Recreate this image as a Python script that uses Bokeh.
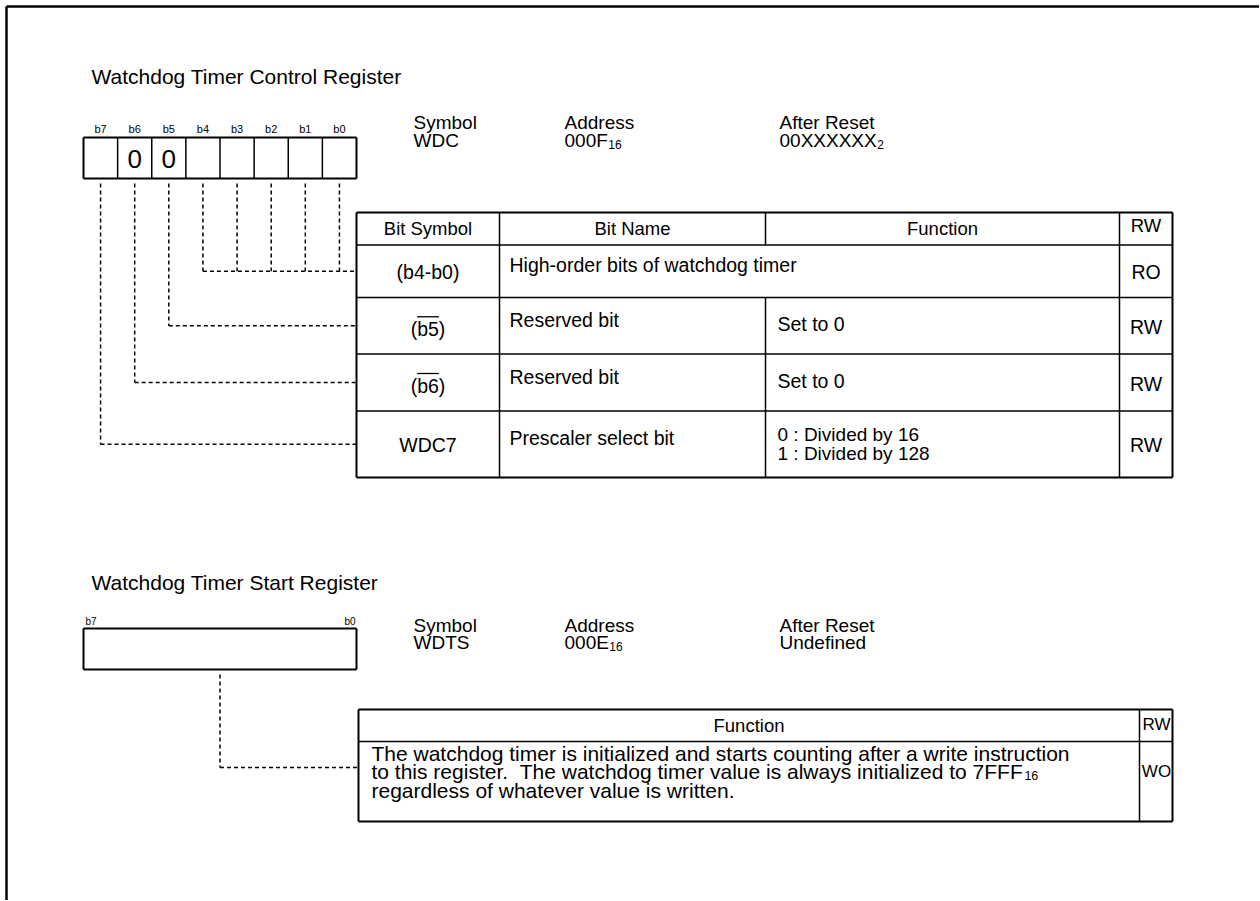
from bokeh.plotting import figure
from bokeh.models import Range1d
from bokeh.core.properties import value
from bokeh.embed import file_html
from bokeh.resources import INLINE

# ---------------- data ----------------
wdc_title = "Watchdog Timer Control Register"
wdts_title = "Watchdog Timer Start Register"
bit_labels = ["b7", "b6", "b5", "b4", "b3", "b2", "b1", "b0"]
wdc_fixed = ["", "0", "0", "", "", "", "", ""]
info_headers = ["Symbol", "Address", "After Reset"]
wdc_info = ["WDC", "000F", "00XXXXXX"]
wdc_info_sub = ["", "16", "2"]
wdts_info = ["WDTS", "000E", "Undefined"]
wdts_info_sub = ["", "16", ""]
wdc_headers = ["Bit Symbol", "Bit Name", "Function", "RW"]
wdc_symbols = ["(b4-b0)", "(b5)", "(b6)", "WDC7"]
wdc_overline = [False, True, True, False]
wdc_names = ["High-order bits of watchdog timer", "Reserved bit", "Reserved bit", "Prescaler select bit"]
wdc_functions = [[], ["Set to 0"], ["Set to 0"], ["0 : Divided by 16", "1 : Divided by 128"]]
wdc_rw = ["RO", "RW", "RW", "RW"]
wdc_bit_hi = [4, 5, 6, 7]
wdc_bit_lo = [0, 5, 6, 7]
wdts_headers = ["Function", "RW"]
wdts_function = [
    "The watchdog timer is initialized and starts counting after a write instruction",
    "to this register. \u00a0The watchdog timer value is always initialized to 7FFF",
    "regardless of whatever value is written.",
]
wdts_function_sub = ["", "16", ""]
wdts_rw = "WO"

# ---------------- layout ----------------
FONT = value("Liberation Sans")
W, H = 1259, 900
REG_X0, REG_X1 = 83, 356
CELL = (REG_X1 - REG_X0) / 8
WDC_BOX_Y = (137, 178)
WDTS_BOX_Y = (628, 669)
INFO_X = [413, 564, 779]
T1_X = [356, 499, 765, 1119, 1172]
T1_Y = [212, 244.5, 297, 353.5, 410.5, 477]
T2_X = [358, 1139, 1172]
T2_Y = [709, 741, 821]
TXT = "19.5px"
FS = 19.5
FS2 = 21

AW = {c: 556 for c in "abdeghnopqu0123456789"}
AW.update({"c": 500, "f": 278, "i": 222, "j": 222, "k": 500, "l": 222, "m": 833, "r": 333,
           "s": 500, "t": 278, "v": 500, "w": 722, "x": 500, "y": 500, "z": 500,
           "A": 667, "B": 667, "C": 722, "D": 722, "E": 667, "F": 611, "T": 611, "W": 944,
           "X": 667, "S": 667, "R": 722, "U": 722, " ": 278, "\u00a0": 278, ".": 278,
           "(": 333, ")": 333, "-": 333, ":": 278})


def tw(s, size):
    return sum(AW.get(c, 556) for c in s) / 1000.0 * size


p = figure(width=W, height=H, output_backend="svg", toolbar_location=None,
           x_range=Range1d(0, W), y_range=Range1d(H, 0),
           x_axis_type=None, y_axis_type=None, min_border=0)
p.outline_line_color = None
p.grid.visible = False
p.background_fill_color = "white"


def txt(xs, ys, texts, size=TXT, align="left", baseline="middle"):
    p.text(x=xs, y=ys, text=texts, text_font=FONT, text_font_size=size,
           text_align=align, text_baseline=baseline, text_color="black")


def seg(x0, y0, x1, y1, w=1.5, dash="solid"):
    p.segment(x0=x0, y0=y0, x1=x1, y1=y1, line_color="black", line_width=w, line_dash=dash)


def rect(x0, y0, x1, y1, w=2):
    seg([x0, x1, x1, x0], [y0, y0, y1, y1], [x1, x1, x0, x0], [y0, y1, y1, y0], w=w)


# outer frame (continues past the right and bottom edges)
seg([6, 6], [6, 6], [W, 6], [6, H], w=2.5)

# titles
txt([91], [76], [wdc_title], size="21px")
txt([91], [582], [wdts_title], size="21px")

# ----- WDC register bits -----
cx = [REG_X0 + (i + 0.5) * CELL for i in range(8)]
txt(cx, [128] * 8, bit_labels, size="11px", align="center")
rect(REG_X0, WDC_BOX_Y[0], REG_X1, WDC_BOX_Y[1], w=2)
divx = [REG_X0 + i * CELL for i in range(1, 8)]
seg(divx, [WDC_BOX_Y[0]] * 7, divx, [WDC_BOX_Y[1]] * 7, w=1.5)
fx = [cx[i] for i, v in enumerate(wdc_fixed) if v]
ft = [v for v in wdc_fixed if v]
txt(fx, [(WDC_BOX_Y[0] + WDC_BOX_Y[1]) / 2 + 1] * len(fx), ft, size="26px", align="center")


def info_block(y_head, y_val, vals, subs):
    txt(INFO_X, [y_head] * 3, info_headers, size="19px")
    txt(INFO_X, [y_val] * 3, vals, size="19px")
    sx = [INFO_X[i] + tw(vals[i], 19) + 0.5 for i in range(3) if subs[i]]
    st = [s for s in subs if s]
    txt(sx, [y_val + 4] * len(sx), st, size="12px")


info_block(122, 139.5, wdc_info, wdc_info_sub)

# table 1 grid
rect(T1_X[0], T1_Y[0], T1_X[-1], T1_Y[-1], w=2)
seg([T1_X[0]] * 4, T1_Y[1:5], [T1_X[-1]] * 4, T1_Y[1:5], w=1.5)
seg([T1_X[1], T1_X[3]], [T1_Y[0]] * 2, [T1_X[1], T1_X[3]], [T1_Y[-1]] * 2, w=1.5)
seg([T1_X[2], T1_X[2]], [T1_Y[0], T1_Y[2]], [T1_X[2], T1_X[2]], [T1_Y[1], T1_Y[-1]], w=1.5)

col_c = [(T1_X[i] + T1_X[i + 1]) / 2 for i in range(4)]
hy = (T1_Y[0] + T1_Y[1]) / 2
txt(col_c[:3], [hy] * 3, wdc_headers[:3], size="18.5px", align="center")
txt([col_c[3]], [hy - 3], wdc_headers[3:], size="18.5px", align="center")

row_c = [(T1_Y[i] + T1_Y[i + 1]) / 2 for i in range(1, 5)]
for r in range(4):
    cy = row_c[r]
    sy = cy + (3 if wdc_overline[r] else 1)
    txt([col_c[0]], [sy], [wdc_symbols[r]], align="center")
    if wdc_overline[r]:
        s = wdc_symbols[r]
        full = tw(s, FS)
        left = col_c[0] - full / 2 + tw("(", FS)
        right = left + tw(s[1:-1], FS)
        seg([left], [sy - 12], [right], [sy - 12], w=1.3)
    txt([T1_X[1] + 10], [cy - 6], [wdc_names[r]])
    lines = wdc_functions[r]
    if len(lines) == 1:
        txt([T1_X[2] + 12], [cy - 2], lines)
    elif len(lines) == 2:
        txt([T1_X[2] + 12] * 2, [cy - 10, cy + 9], lines, size="19px")
    txt([col_c[3]], [cy + 1], [wdc_rw[r]], align="center")

# dashed connectors for WDC
dash = "4 3"
for r in range(4):
    hi, lo = wdc_bit_hi[r], wdc_bit_lo[r]
    cy = row_c[r]
    xs = [cx[7 - b] for b in range(lo, hi + 1)]
    seg(xs, [WDC_BOX_Y[1] + 5] * len(xs), xs, [cy] * len(xs), w=1.5, dash=dash)
    seg([min(xs)], [cy], [T1_X[0]], [cy], w=1.5, dash=dash)

# ----- WDTS register -----
txt([REG_X0 + 2], [621], [bit_labels[0]], size="10px")
txt([REG_X1 - 1], [621], [bit_labels[-1]], size="10px", align="right")
rect(REG_X0, WDTS_BOX_Y[0], REG_X1, WDTS_BOX_Y[1], w=2)
info_block(625, 642, wdts_info, wdts_info_sub)

rect(T2_X[0], T2_Y[0], T2_X[-1], T2_Y[-1], w=2)
seg([T2_X[0]], [T2_Y[1]], [T2_X[-1]], [T2_Y[1]], w=1.5)
seg([T2_X[1]], [T2_Y[0]], [T2_X[1]], [T2_Y[-1]], w=1.5)
h2 = (T2_Y[0] + T2_Y[1]) / 2
txt([(T2_X[0] + T2_X[1]) / 2], [h2], [wdts_headers[0]], size="18.5px", align="center")
txt([(T2_X[1] + T2_X[2]) / 2 + 0.5], [h2 - 1], [wdts_headers[1]], size="17px", align="center")
b2 = (T2_Y[1] + T2_Y[2]) / 2
mid = b2 - 10
ly = [mid - 18.5, mid, mid + 18.5]
txt([T2_X[0] + 13] * 3, ly, wdts_function, size=f"{FS2}px")
for i, s in enumerate(wdts_function_sub):
    if s:
        txt([T2_X[0] + 13 + tw(wdts_function[i], FS2) + 0.5], [ly[i] + 4], [s], size="12.5px")
txt([(T2_X[1] + T2_X[2]) / 2 + 0.5], [mid], [wdts_rw], size="17px", align="center")

mx = (REG_X0 + REG_X1) / 2
seg([mx], [WDTS_BOX_Y[1] + 5], [mx], [mid - 4], w=1.5, dash=dash)
seg([mx], [mid - 4], [T2_X[0]], [mid - 4], w=1.5, dash=dash)

open("out.html", "w").write(file_html(p, INLINE))
